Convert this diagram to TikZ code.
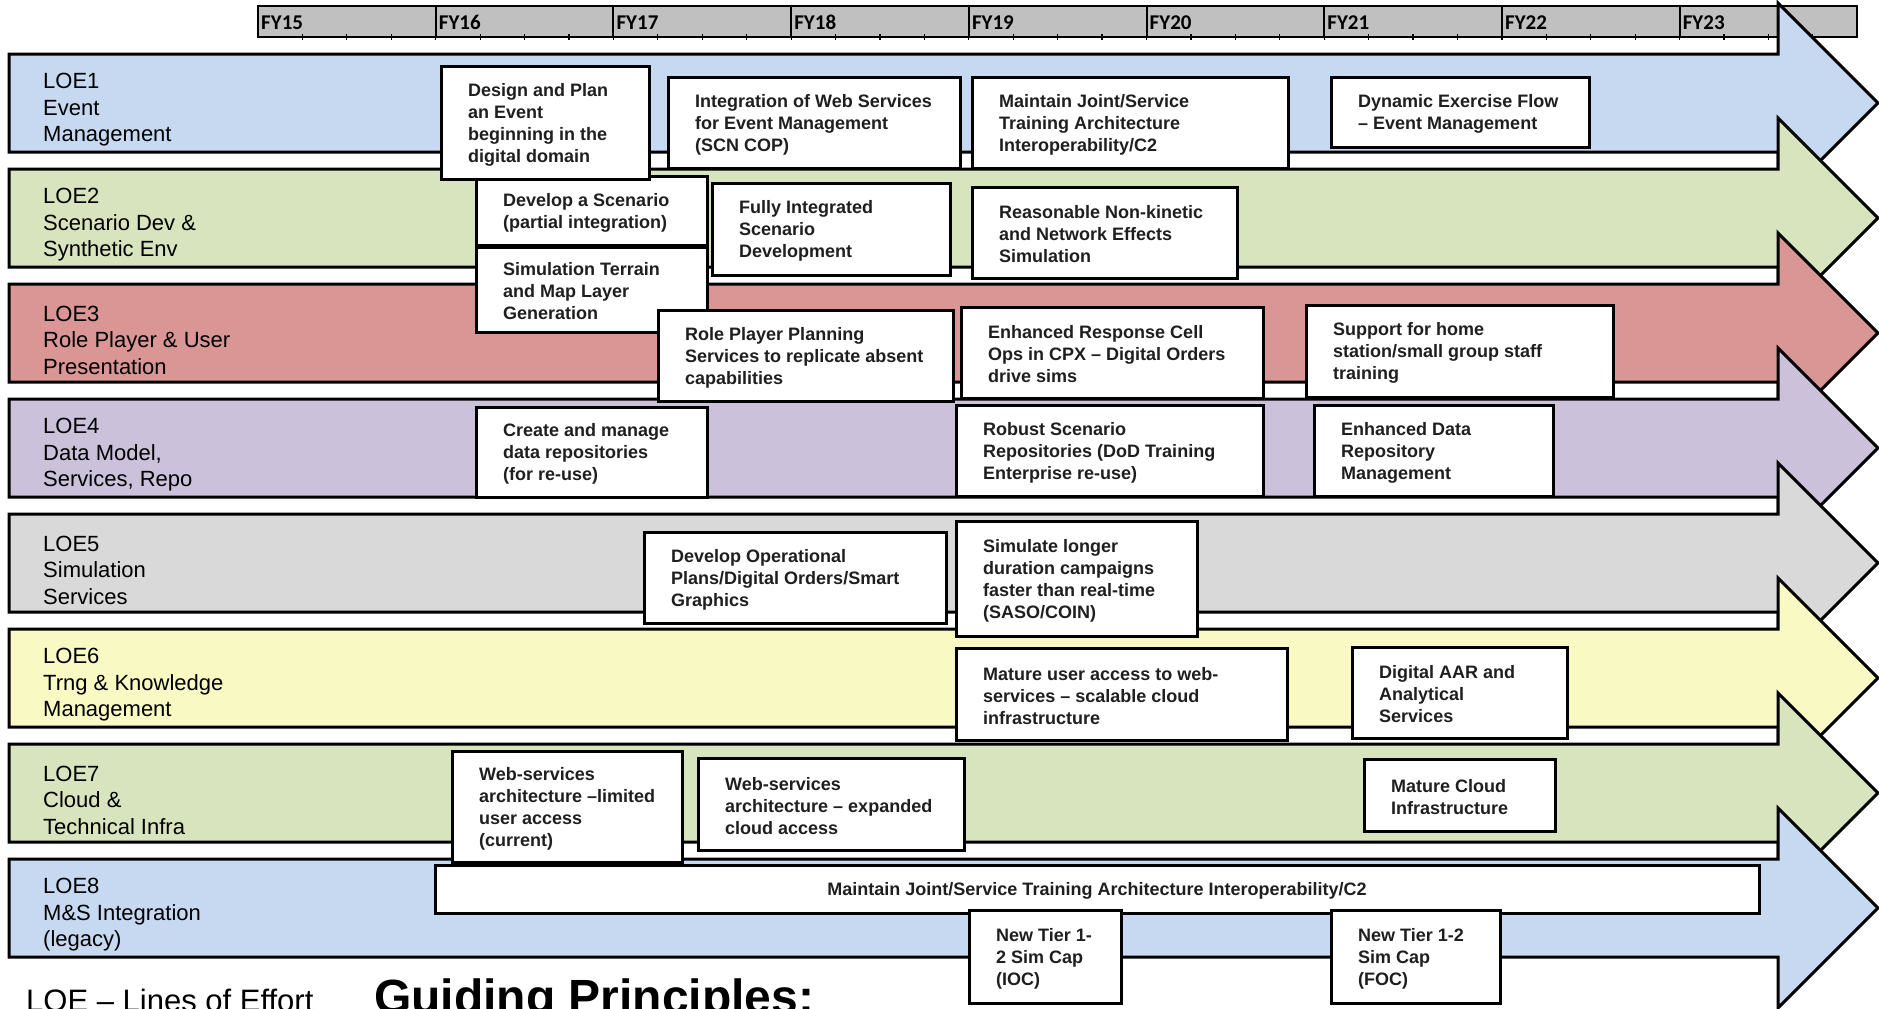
\documentclass[tikz,border=0pt]{standalone}
\usepackage{fontspec}
\setmainfont{Liberation Sans}
\newfontfamily\yearfont{Carlito}

\definecolor{loeblue}{HTML}{C6D9F1}
\definecolor{loegreen}{HTML}{D7E4BD}
\definecolor{loered}{HTML}{D99694}
\definecolor{loepurple}{HTML}{CCC1DA}
\definecolor{loegray}{HTML}{D9D9D9}
\definecolor{loeyellow}{HTML}{F9F9C3}
\definecolor{tlgray}{HTML}{C0C0C0}

% one milestone box: name, left, top, right, bottom, text (left aligned, inset)
\newcommand\milestone[6]{%
  \node[taskbox, minimum width={#4-#2}, minimum height={#5-#3}] (#1) at ({(#2+#4)/2},{(#3+#5)/2}) {};
  \node[tasktext, anchor=west] (#1-txt) at ([xshift=27pt,yshift=-2pt]#1.west) {#6};
}

% one line-of-effort arrow: index, fill colour, label node name, label text
\newcommand\lanearrow[4]{%
  \pgfmathsetmacro\lt{54+115*#1}
  \pgfmathsetmacro\lb{\lt+98}
  \pgfmathsetmacro\lc{\lt+49}
  \pgfmathsetmacro\lht{\lc-100}
  \pgfmathsetmacro\lhb{\lc+100}
  \draw[lane, fill=#2] (9,\lt) -- (1778,\lt) -- (1778,\lht) -- (1878,\lc)
     -- (1778,\lhb) -- (1778,\lb) -- (9,\lb) -- cycle;
  \node[lanelabel] (#3) at (43,\lc+7) {#4};
}

\begin{document}
\begin{tikzpicture}[x=1pt,y=-1pt,
  lane/.style={draw=black, line width=3pt, line join=miter},
  taskbox/.style={draw=black, fill=white, line width=3pt, rectangle, inner sep=0pt, outer sep=0pt},
  tasktext/.style={inner sep=0pt, align=left, font=\fontsize{18}{22}\selectfont\bfseries, text=black!88},
  lanelabel/.style={inner sep=0pt, align=left, anchor=west, font=\fontsize{22}{26.5}\selectfont},
  yearlabel/.style={inner sep=0pt, anchor=base west, font=\yearfont\fontsize{21}{21}\selectfont\bfseries},
]
\useasboundingbox (0,0) rectangle (1879,1009);
\clip (0,0) rectangle (1879,1009);

% fiscal-year scale
\draw[fill=tlgray, line width=1.5pt] (258,6) rectangle (1857,37);
\foreach \k in {0,...,8} {
  \draw[line width=2pt] ({258+177.7*\k},6) -- ({258+177.7*\k},38);
}
\foreach \q in {1,...,35} {
  \draw[line width=1.2pt] ({258+177.7*\q/4},34) -- ({258+177.7*\q/4},40);
}
\foreach \k/\yr in {0/15,1/16,2/17,3/18,4/19,5/20,6/21,7/22,8/23} {
  \node[yearlabel] (fy\yr) at ({261+177.7*\k},29) {FY\yr};
}

% lines of effort
\lanearrow{0}{loeblue}{loe1}{LOE1\\Event\\Management}
\lanearrow{1}{loegreen}{loe2}{LOE2\\Scenario Dev \&\\Synthetic Env}
\lanearrow{2}{loered}{loe3}{LOE3\\Role Player \& User\\Presentation}
\lanearrow{3}{loepurple}{loe4}{LOE4\\Data Model,\\Services, Repo}
\lanearrow{4}{loegray}{loe5}{LOE5\\Simulation\\Services}
\lanearrow{5}{loeyellow}{loe6}{LOE6\\Trng \& Knowledge\\Management}
\lanearrow{6}{loegreen}{loe7}{LOE7\\Cloud \&\\Technical Infra}
\lanearrow{7}{loeblue}{loe8}{LOE8\\M\&S Integration\\(legacy)}

% milestones
\milestone{b5}{476}{176}{707}{245}{Develop a Scenario\\(partial integration)}
\milestone{b6}{476}{247}{707}{332}{Simulation Terrain\\and Map Layer\\Generation}
\milestone{b1}{441}{66}{649}{179}{Design and Plan\\an Event\\beginning in the\\digital domain}
\milestone{b2}{668}{77}{960}{168}{Integration of Web Services\\for Event Management\\(SCN COP)}
\milestone{b3}{972}{77}{1288}{168}{Maintain Joint/Service\\Training Architecture\\Interoperability/C2}
\milestone{b4}{1331}{77}{1589}{147}{Dynamic Exercise Flow\\– Event Management}
\milestone{b7}{712}{183}{950}{275}{Fully Integrated\\Scenario\\Development}
\milestone{b8}{972}{187}{1237}{278}{Reasonable Non-kinetic\\and Network Effects\\Simulation}
\milestone{b9}{658}{310}{953}{401}{Role Player Planning\\Services to replicate absent\\capabilities}
\milestone{b10}{961}{307}{1263}{398}{Enhanced Response Cell\\Ops in CPX – Digital Orders\\drive sims}
\milestone{b11}{1306}{305}{1613}{397}{Support for home\\station/small group staff\\training}
\milestone{b12}{476}{407}{707}{497}{Create and manage\\data repositories\\(for re-use)}
\milestone{b13}{956}{405}{1263}{496}{Robust Scenario\\Repositories (DoD Training\\Enterprise re-use)}
\milestone{b14}{1314}{405}{1553}{496}{Enhanced Data\\Repository\\Management}
\milestone{b15}{644}{532}{946}{623}{Develop Operational\\Plans/Digital Orders/Smart\\Graphics}
\milestone{b16}{956}{521}{1197}{636}{Simulate longer\\duration campaigns\\faster than real-time\\(SASO/COIN)}
\milestone{b17}{956}{648}{1287}{740}{Mature user access to web-\\services – scalable cloud\\infrastructure}
\milestone{b18}{1352}{647}{1567}{738}{Digital AAR and\\Analytical\\Services}
\milestone{b19}{452}{751}{682}{862}{Web-services\\architecture –limited\\user access\\(current)}
\milestone{b20}{698}{758}{964}{850}{Web-services\\architecture – expanded\\cloud access}
\milestone{b21}{1364}{759}{1555}{831}{Mature Cloud\\Infrastructure}

% legacy integration bar with centred text
\node[taskbox, minimum width=1324, minimum height=48] (b22) at (1097,889) {};
\node[tasktext] (b22-txt) at ([yshift=-2pt]b22.center) {Maintain Joint/Service Training Architecture Interoperability/C2};

\milestone{b23}{969}{910}{1121}{1003}{New Tier 1-\\2 Sim Cap\\(IOC)}
\milestone{b24}{1331}{910}{1500}{1003}{New Tier 1-2\\Sim Cap\\(FOC)}

% key and heading along the bottom edge
\node[anchor=base west, inner sep=0pt, font=\fontsize{31}{31}\selectfont] (key) at (26,1011) {LOE – Lines of Effort};
\node[anchor=base west, inner sep=0pt, font=\fontsize{48}{48}\selectfont\bfseries] (heading) at (374,1013) {Guiding Principles:};
\end{tikzpicture}
\end{document}
